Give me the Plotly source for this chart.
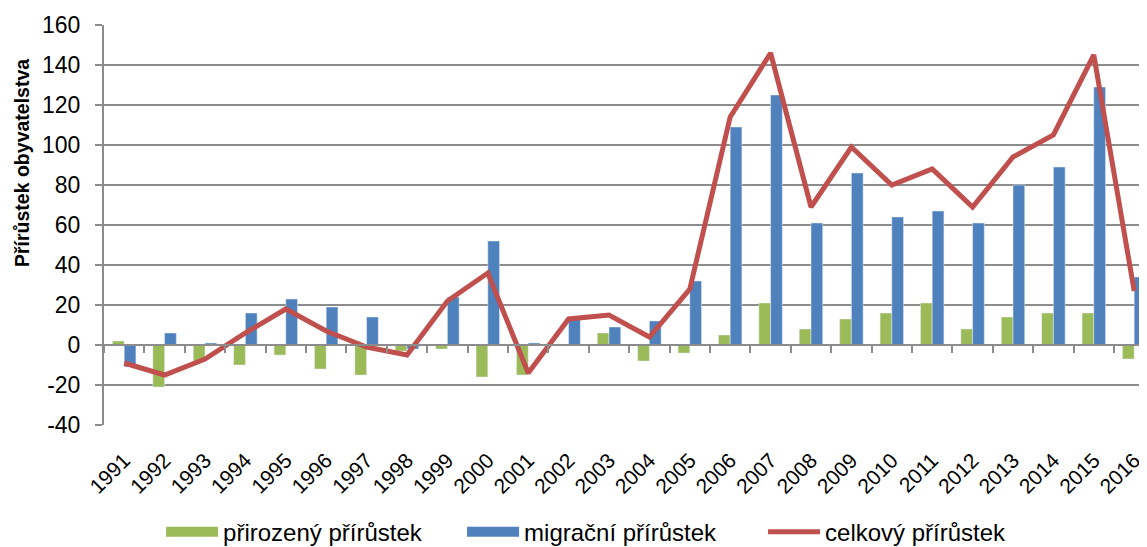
import plotly.graph_objects as go

roky = [str(r) for r in range(1991, 2017)]
prirozeny = [2, -21, -8, -10, -5, -12, -15, -3, -2, -16, -15, 0, 6, -8, -4,
             5, 21, 8, 13, 16, 21, 8, 14, 16, 16, -7]
migracni = [-11, 6, 1, 16, 23, 19, 14, -2, 24, 52, 1, 13, 9, 12, 32,
            109, 125, 61, 86, 64, 67, 61, 80, 89, 129, 34]
celkovy = [-9, -15, -7, 6, 18, 7, -1, -5, 22, 36, -14, 13, 15, 4, 28,
           114, 146, 69, 99, 80, 88, 69, 94, 105, 145, 27]
osa_y = list(range(-40, 161, 20))

zelena = '#9BBB59'
modra = '#4F81BD'
cervena = '#C0504D'
seda = '#8C8C8C'
pismo = 'Liberation Sans, Arial, sans-serif'

# stranka ma okraj 8 px, proto je graf o 8 px mensi
W, H = 1139, 539
L, T, B = 96, 17, 122
sirka_kat = 40.4
rozsah_x = [-0.5, -0.5 + (W - L) / sirka_kat]

fig = go.Figure()
fig.add_trace(go.Bar(x=roky, y=prirozeny, marker_color=zelena, showlegend=False))
fig.add_trace(go.Bar(x=roky, y=migracni, marker_color=modra, showlegend=False))
fig.add_trace(go.Scatter(x=roky, y=celkovy, mode='lines', xaxis='x2',
                         line=dict(color=cervena, width=5), showlegend=False))

# legenda - siroke obdelniky jako v Excelu
for nazev, barva, tl in [('přirozený přírůstek', zelena, 12),
                         ('migrační přírůstek', modra, 12),
                         ('celkový přírůstek', cervena, 5)]:
    fig.add_trace(go.Scatter(x=[None], y=[None], mode='lines', name=nazev,
                             line=dict(color=barva, width=tl)))

fig.update_layout(
    width=W, height=H,
    margin=dict(l=L, r=0, t=T, b=B, autoexpand=False),
    paper_bgcolor='white', plot_bgcolor='white',
    barmode='group', bargap=0.42, bargroupgap=0,
    font=dict(family=pismo, size=22, color='black'),
    xaxis=dict(type='category', range=rozsah_x, showgrid=False, showline=False,
               ticks='', tickangle=-45, tickfont=dict(size=21), zeroline=False,
               ticklabelstandoff=18, automargin=False),
    xaxis2=dict(type='category', range=rozsah_x, overlaying='x', anchor='free',
                position=0.2, side='bottom', showgrid=False, showline=True,
                linecolor=seda, linewidth=2, ticks='outside', tickson='boundaries',
                ticklen=7, tickwidth=2, tickcolor=seda, showticklabels=False,
                automargin=False),
    yaxis=dict(range=[-40, 160], tickvals=osa_y, ticktext=[str(v) for v in osa_y],
               showgrid=True, gridcolor=seda, gridwidth=2, zeroline=False,
               showline=True, linecolor=seda, linewidth=2, ticks='outside',
               ticklen=7, tickwidth=2, tickcolor=seda, tickfont=dict(size=23),
               ticklabelstandoff=10, automargin=False),
    legend=dict(orientation='h', x=0.0547, xanchor='left', y=-0.268,
                yanchor='middle', itemwidth=52, entrywidth=234,
                font=dict(size=24), tracegroupgap=0),
    annotations=[dict(text='<b>Přírůstek obyvatelstva</b>', textangle=-90,
                      xref='paper', yref='paper', x=-(L - 14) / (W - L),
                      xanchor='center', y=(417 - 155) / 400, yanchor='middle',
                      showarrow=False, font=dict(size=19.5))],
)

fig.write_html('out.html')
